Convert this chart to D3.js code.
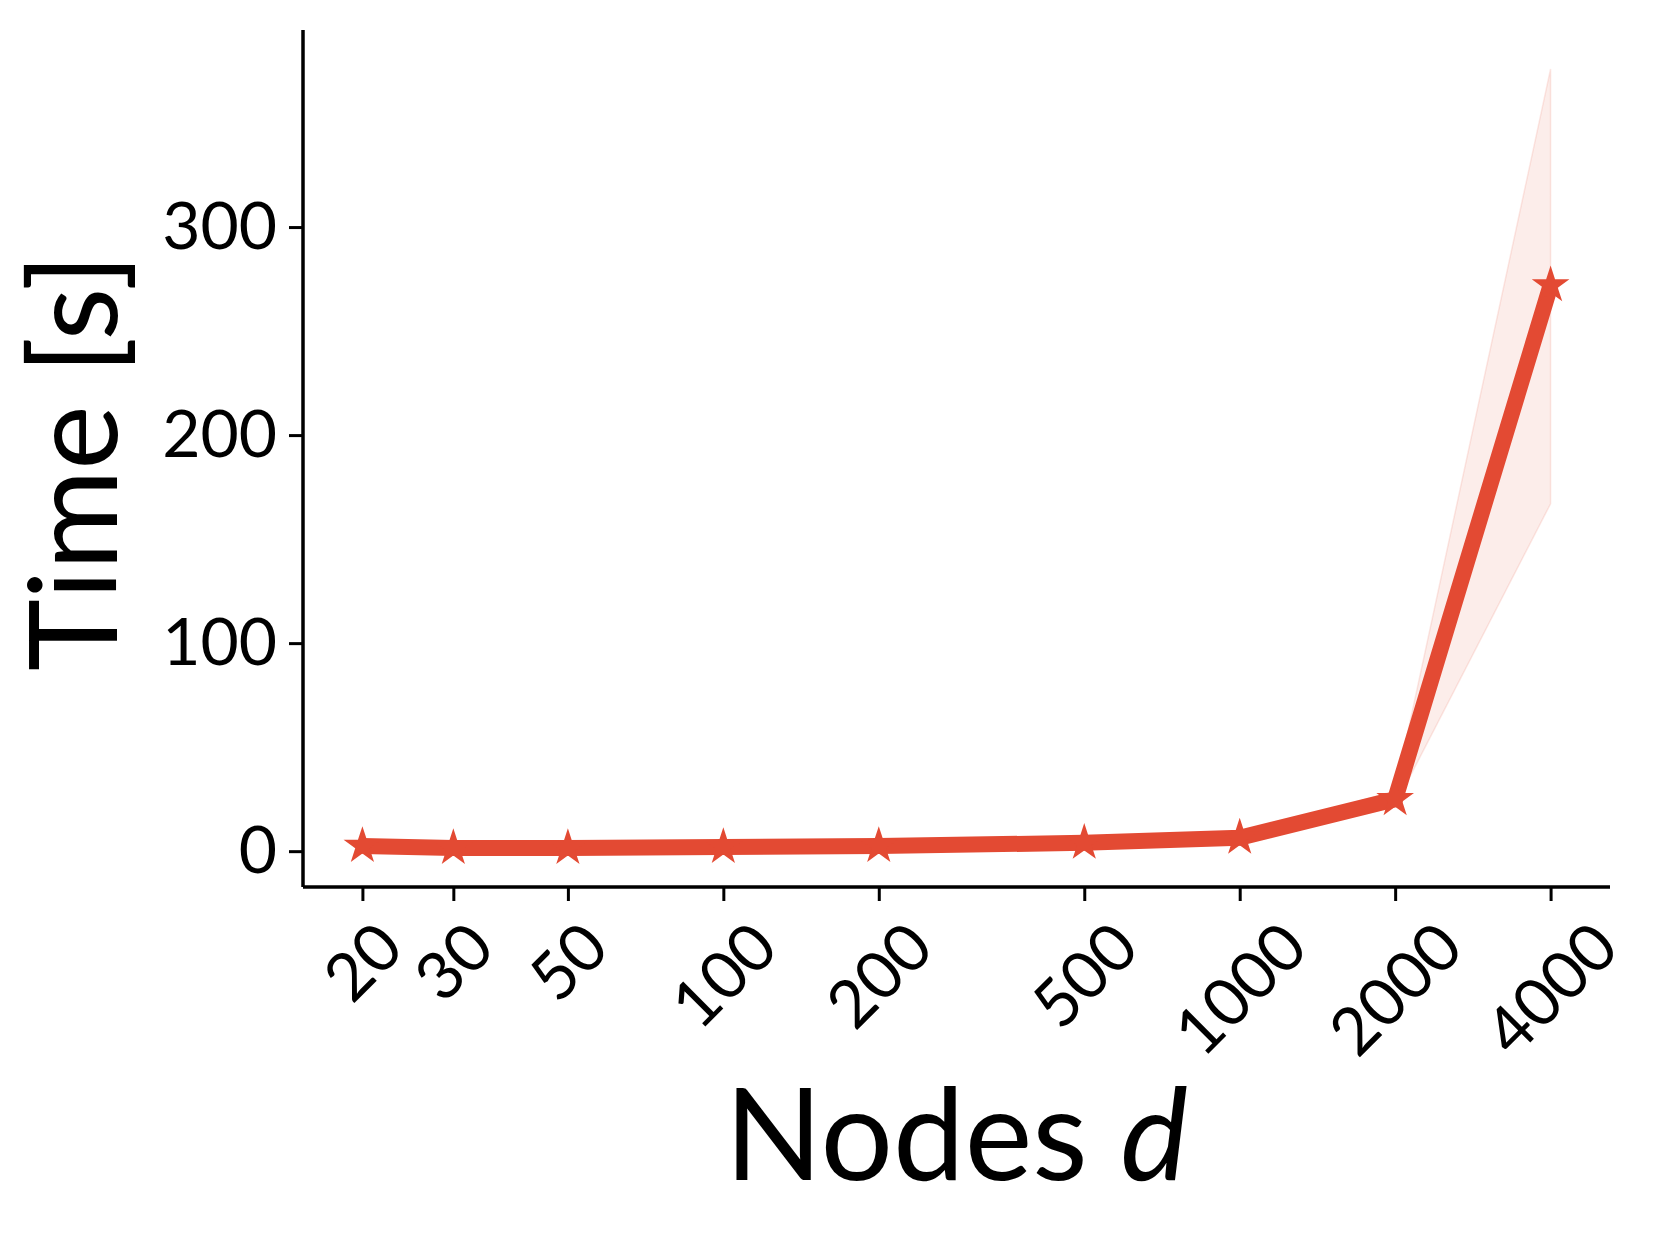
<!DOCTYPE html>
<head>
  <meta charset="utf-8">
  <script src="https://d3js.org/d3.v7.min.js"></script>
  <style>
    body { margin: 0; background: #fff; }
    text { font-family: Lato, "Open Sans", sans-serif; fill: #000; }
  </style>
</head>
<body>
<div id="chart"></div>
<script>
  // data
  var nodes = [20, 30, 50, 100, 200, 500, 1000, 2000, 4000];
  var meanTime = [2.5, 1.5, 1.5, 2, 2.5, 4, 6.5, 25, 272];
  var lowerTime = [2, 1.5, 1.5, 1.5, 2, 3.5, 5.5, 22, 167];
  var upperTime = [3, 2, 2, 2.5, 3, 4.5, 7.5, 29, 376];
  var yTicks = [0, 100, 200, 300];
  var xLabel = "Nodes ", xLabelItalic = "d";
  var yLabel = "Time [s]";

  var W = 1660, H = 1238;
  var plotLeft = 303, plotRight = 1610, plotTop = 30, plotBottom = 887;
  var red = "#e34a33";
  var tickFont = 66;

  var svg = d3.select("#chart").append("svg")
    .attr("width", W).attr("height", H);

  // matplotlib-like 5% margins
  var lx0 = Math.log10(d3.min(nodes)), lx1 = Math.log10(d3.max(nodes));
  var mx = (lx1 - lx0) * 0.05;
  var x = d3.scaleLog()
    .domain([Math.pow(10, lx0 - mx), Math.pow(10, lx1 + mx)])
    .range([plotLeft, plotRight]);

  var y0 = d3.min(lowerTime), y1 = d3.max(upperTime);
  var my = (y1 - y0) * 0.05;
  var y = d3.scaleLinear()
    .domain([y0 - my, y1 + my])
    .range([plotBottom, plotTop]);

  var data = nodes.map(function(n, i) {
    return {n: n, m: meanTime[i], lo: lowerTime[i], hi: upperTime[i]};
  });

  // band
  svg.append("path")
    .datum(data)
    .attr("d", d3.area()
      .x(function(d) { return x(d.n); })
      .y0(function(d) { return y(d.lo); })
      .y1(function(d) { return y(d.hi); }))
    .attr("fill", red).attr("fill-opacity", 0.1)
    .attr("stroke", red).attr("stroke-opacity", 0.12).attr("stroke-width", 1.5);

  // line
  svg.append("path")
    .datum(data)
    .attr("d", d3.line()
      .x(function(d) { return x(d.n); })
      .y(function(d) { return y(d.m); }))
    .attr("fill", "none")
    .attr("stroke", red)
    .attr("stroke-width", 16)
    .attr("stroke-linejoin", "round");

  // star markers
  svg.selectAll(".star")
    .data(data)
    .enter().append("path")
    .attr("class", "star")
    .attr("d", d3.symbol().type(d3.symbolStar).size(440))
    .attr("transform", function(d) { return "translate(" + x(d.n) + "," + y(d.m) + ")"; })
    .attr("fill", red);

  // y axis
  var gy = svg.append("g")
    .attr("transform", "translate(" + plotLeft + ",0)")
    .call(d3.axisLeft(y).tickValues(yTicks).tickSizeInner(14).tickSizeOuter(0).tickPadding(12));
  gy.select(".domain").attr("stroke-width", 3.5).attr("d", "M0," + plotTop + "V" + plotBottom);
  gy.selectAll(".tick line").attr("stroke-width", 3);
  gy.selectAll(".tick text")
    .style("font-family", "Lato, sans-serif")
    .attr("font-size", tickFont)
    .attr("fill", "#000");

  // x axis
  var gx = svg.append("g")
    .attr("transform", "translate(0," + plotBottom + ")")
    .call(d3.axisBottom(x).tickValues(nodes).tickSizeInner(14).tickSizeOuter(0).tickFormat(d3.format("d")));
  gx.select(".domain").attr("stroke-width", 3.5).attr("d", "M" + plotLeft + ",0H" + plotRight);
  gx.selectAll(".tick line").attr("stroke-width", 3);
  gx.selectAll(".tick text")
    .style("font-family", "Lato, sans-serif")
    .attr("font-size", tickFont)
    .attr("fill", "#000")
    .attr("text-anchor", "middle")
    .attr("dy", "0.35em")
    .attr("y", 0)
    .each(function() {
      var w = this.getComputedTextLength();
      var h = 0.72 * tickFont;
      var half = (w + h) / (2 * Math.SQRT2);
      var cy = 918 - plotBottom + half;
      d3.select(this).attr("transform", "translate(0," + cy + ") rotate(-45)");
    });

  // axis labels
  var xl = svg.append("text")
    .attr("x", (plotLeft + plotRight) / 2)
    .attr("y", 1180)
    .attr("text-anchor", "middle")
    .attr("font-size", 128);
  xl.append("tspan").text(xLabel);
  xl.append("tspan").attr("font-style", "italic").text(xLabelItalic);

  svg.append("text")
    .attr("transform", "translate(117," + ((plotTop + plotBottom) / 2 + 4) + ") rotate(-90)")
    .attr("text-anchor", "middle")
    .attr("font-size", 122)
    .text(yLabel);
</script>
</body>
